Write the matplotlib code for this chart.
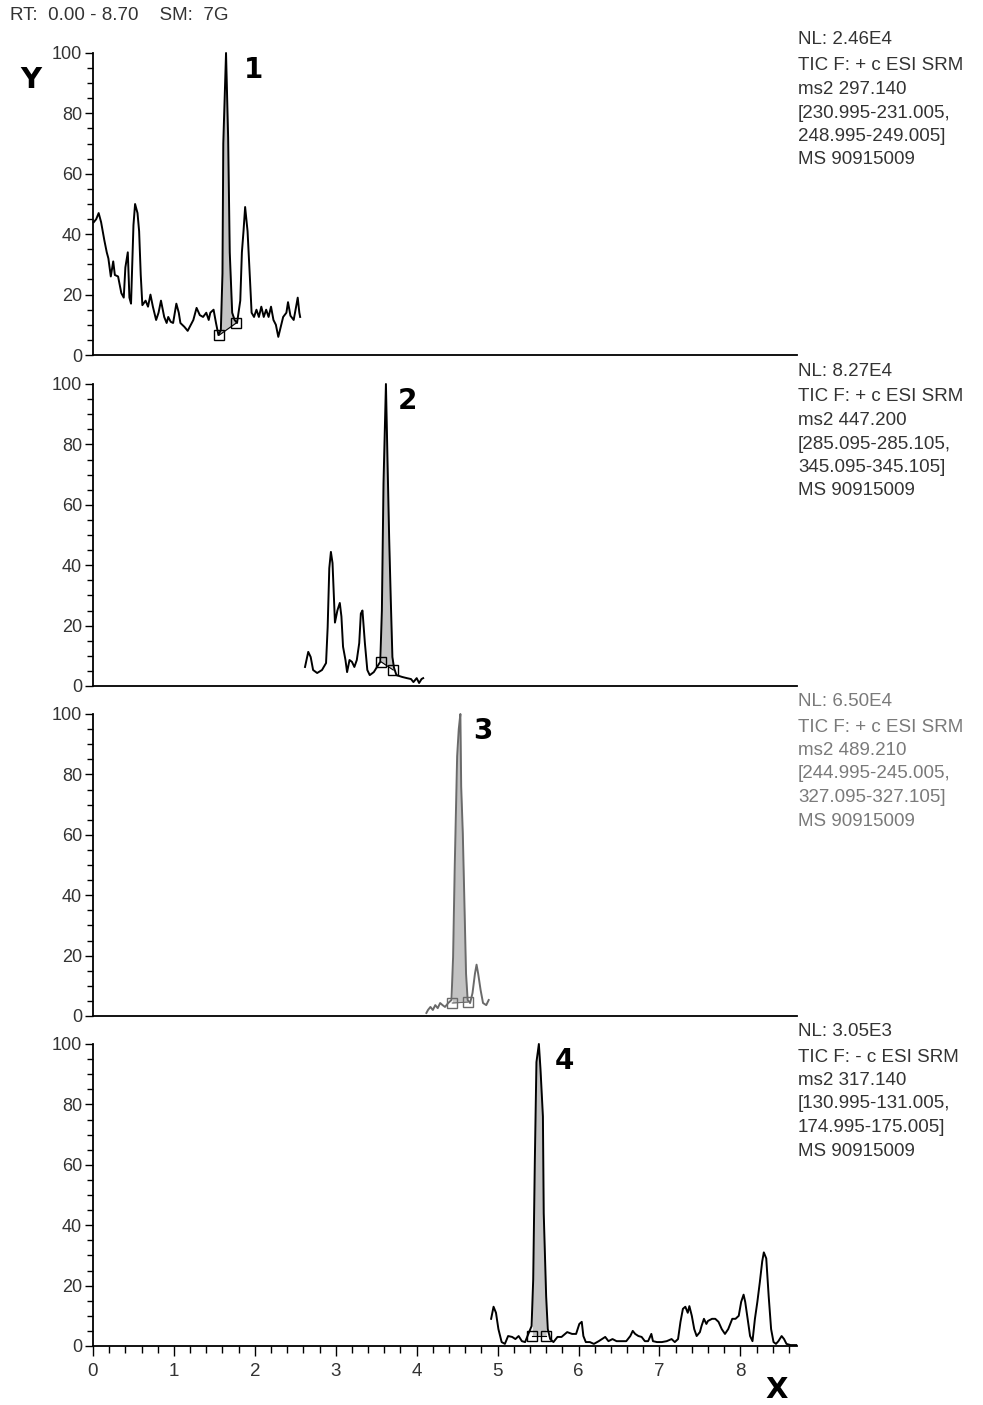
import numpy as np
import matplotlib
matplotlib.use("Agg")
import matplotlib.pyplot as plt
from matplotlib.ticker import MultipleLocator

# ---- trace 1 (RT min, relative abundance %)
t1 = [0.01, 0.04, 0.07, 0.10, 0.14, 0.17, 0.19, 0.22, 0.25, 0.27, 0.31, 0.35, 0.38, 0.40,
      0.43, 0.45, 0.47, 0.50, 0.52, 0.55, 0.57, 0.59, 0.61, 0.65, 0.68, 0.71, 0.74, 0.78,
      0.81, 0.84, 0.88, 0.91, 0.93, 0.96, 0.99, 1.03, 1.06, 1.08, 1.13, 1.17, 1.24, 1.28,
      1.32, 1.36, 1.40, 1.43, 1.45, 1.49, 1.52, 1.55, 1.58, 1.60, 1.61, 1.644, 1.67, 1.69,
      1.72, 1.75, 1.78, 1.82, 1.84, 1.86, 1.88, 1.91, 1.94, 1.96, 1.99, 2.02, 2.05, 2.08,
      2.11, 2.14, 2.17, 2.20, 2.23, 2.26, 2.29, 2.32, 2.35, 2.39, 2.41, 2.44, 2.48, 2.51,
      2.53, 2.55, 2.56]
y1 = [44, 45, 47, 44, 38, 34, 32, 26, 31, 26.5, 26, 20.5, 19, 29,
      34, 19, 17, 43, 50, 47, 41, 26.5, 16.5, 18, 16, 20, 16, 11.6,
      14, 18, 12.6, 10.6, 12.6, 11, 10.6, 17, 14, 10.6, 9.3, 8, 11.6, 15.6,
      13.2, 12.6, 14, 11.6, 14, 15, 10.6, 6.6, 8.3, 27, 70, 100, 72, 34,
      14, 11.6, 10.6, 18, 34, 41, 49, 41, 25, 14, 12.6, 15, 12.6, 16,
      12.6, 15, 12.6, 16, 11.6, 10, 6, 9.3, 12.6, 14, 17.5, 13, 11.6, 16,
      19, 14, 12.6]
box1 = [(1.56, 6.6), (1.77, 10.6)]

# ---- trace 2
t2 = [2.62, 2.66, 2.69, 2.72, 2.77, 2.83, 2.88, 2.90, 2.92, 2.94, 2.96, 2.99, 3.02, 3.05,
      3.07, 3.09, 3.12, 3.14, 3.17, 3.20, 3.23, 3.26, 3.29, 3.31, 3.33, 3.36, 3.39, 3.42,
      3.47, 3.51, 3.55, 3.57, 3.59, 3.62, 3.64, 3.66, 3.68, 3.70, 3.72, 3.75, 3.82, 3.88,
      3.93, 3.96, 4.00, 4.03, 4.06, 4.08]
y2 = [6.3, 11.3, 9.6, 5.3, 4.3, 5.3, 7.6, 19.5, 39, 44.4, 40.7, 21, 25, 27.5,
      23, 13, 8.6, 4.6, 8.6, 8, 6.3, 8.6, 14.2, 24, 25, 14.2, 5.3, 3.6,
      4.6, 6.3, 8, 25, 67, 100, 74, 49, 28.5, 9.6, 6, 3.6, 3, 2.6,
      2.3, 1.3, 2.6, 1, 2.3, 2.6]
box2 = [(3.56, 8), (3.71, 5.3)]

# ---- trace 3
t3 = [4.12, 4.14, 4.17, 4.20, 4.23, 4.26, 4.29, 4.32, 4.35, 4.39, 4.43, 4.45, 4.47, 4.50,
      4.52, 4.54, 4.55, 4.57, 4.59, 4.61, 4.63, 4.66, 4.69, 4.72, 4.74, 4.76, 4.79, 4.82,
      4.86, 4.89]
y3 = [1, 2, 3, 2, 3.6, 2.6, 4.3, 3.6, 3, 4.3, 5.3, 19.5, 49, 86,
      95, 100, 76, 60.5, 37.4, 14, 5.3, 4.3, 7.6, 14, 17, 14, 8.6, 4.3,
      3.6, 5.3]
box3 = [(4.44, 4.3), (4.63, 4.6)]

# ---- trace 4
t4 = [4.92, 4.95, 4.98, 5.01, 5.05, 5.09, 5.13, 5.18, 5.22, 5.26, 5.30, 5.34, 5.38, 5.42,
      5.44, 5.46, 5.48, 5.51, 5.53, 5.56, 5.57, 5.60, 5.62, 5.65, 5.69, 5.74, 5.79, 5.86,
      5.92, 5.97, 6.01, 6.04, 6.06, 6.09, 6.14, 6.19, 6.25, 6.29, 6.33, 6.37, 6.42, 6.47,
      6.55, 6.59, 6.64, 6.67, 6.70, 6.74, 6.78, 6.82, 6.86, 6.90, 6.92, 6.97, 7.03, 7.09,
      7.15, 7.19, 7.23, 7.26, 7.29, 7.32, 7.35, 7.37, 7.40, 7.43, 7.46, 7.50, 7.52, 7.55,
      7.58, 7.60, 7.65, 7.69, 7.73, 7.77, 7.81, 7.85, 7.90, 7.94, 7.98, 8.01, 8.04, 8.06,
      8.09, 8.12, 8.15, 8.18, 8.21, 8.24, 8.27, 8.29, 8.32, 8.35, 8.38, 8.41, 8.44, 8.47,
      8.51, 8.54, 8.57, 8.62, 8.69]
y4 = [9, 13, 11, 5.6, 1.3, 0.7, 3.3, 3, 2.3, 3.3, 1.6, 1.3, 4, 6.6,
      22, 61, 94, 100, 91.7, 76, 44, 16.5, 5.6, 2.3, 1.3, 3, 3, 4.6,
      4, 4, 7.3, 8, 3.3, 1.3, 1.3, 0.7, 1.6, 2.3, 3, 1.6, 2.3, 1.6,
      1.6, 1.6, 3.3, 5, 4, 3.3, 3, 1.6, 1.6, 4, 1.6, 1.3, 1.3, 1.6,
      2.3, 1.3, 2.3, 8, 12.3, 13, 11, 13.2, 10, 5.6, 3.3, 4.6, 6.6, 9,
      7.3, 8.3, 9, 9, 8, 5.6, 4, 5.6, 9, 9, 10, 14.6, 17, 14.6,
      9, 3.3, 1.6, 9, 14.6, 21, 28, 31, 29, 16.5, 5.6, 1.3, 0.7, 1.6,
      3.3, 2.3, 0.7, 0.3, 0.3]
box4 = [(5.43, 3.3), (5.60, 3.3)]

info1 = ["NL: 2.46E4", "TIC F: + c ESI SRM", "ms2 297.140",
         "[230.995-231.005,", "248.995-249.005]", "MS 90915009"]
info2 = ["NL: 8.27E4", "TIC F: + c ESI SRM", "ms2 447.200",
         "[285.095-285.105,", "345.095-345.105]", "MS 90915009"]
info3 = ["NL: 6.50E4", "TIC F: + c ESI SRM", "ms2 489.210",
         "[244.995-245.005,", "327.095-327.105]", "MS 90915009"]
info4 = ["NL: 3.05E3", "TIC F: - c ESI SRM", "ms2 317.140",
         "[130.995-131.005,", "174.995-175.005]", "MS 90915009"]

peak_num = ["1", "2", "3", "4"]
peak_num_x = [1.98, 3.88, 4.82, 5.83]

W, H = 983, 1405
fig = plt.figure(figsize=(W / 100, H / 100), dpi=100)
tickfont = ['Liberation Sans Narrow', 'Liberation Sans', 'DejaVu Sans']
txtfont = ['Liberation Sans', 'DejaVu Sans']

tops = [53, 384, 714, 1044]
traces = [(t1, y1, box1, info1), (t2, y2, box2, info2),
          (t3, y3, box3, info3), (t4, y4, box4, info4)]

for k, (t, y, box, info) in enumerate(traces):
    top = tops[k]
    ax = fig.add_axes([93 / W, 1 - (top + 302) / H, 704 / W, 302 / H])
    t = np.array(t)
    y = np.array(y)
    col = '#6a6a6a' if k == 2 else 'black'
    tcol = '#7a7a7a' if k == 2 else '#333333'

    # shaded peak area between trace and baseline through the two boxes
    (xa, ya), (xb, yb) = box
    xs = np.concatenate([[xa], t[(t > xa) & (t < xb)], [xb]])
    ys = np.interp(xs, t, y)
    base = np.interp(xs, [xa, xb], [ya, yb])
    ax.fill_between(xs, base, ys, color='#c3c3c3', lw=0)
    ax.plot([xa, xb], [ya, yb], color=col, lw=0.8)

    ax.plot(t, y, color=col, lw=1.4, clip_on=False)
    ax.plot([xa, xb], [ya, yb], ls='none', marker='s', ms=6.5, mfc='none',
            mec=col, mew=1.0, clip_on=False)

    ax.set_xlim(0, 8.7)
    ax.set_ylim(0, 100)
    for s in ['top', 'right']:
        ax.spines[s].set_visible(False)
    ax.spines['left'].set_linewidth(1.3)
    ax.spines['bottom'].set_linewidth(1.3)
    ax.yaxis.set_major_locator(MultipleLocator(20))
    ax.yaxis.set_minor_locator(MultipleLocator(5))
    ax.tick_params(axis='y', which='major', length=6, width=1, pad=2,
                   labelsize=13, labelcolor='#333333')
    ax.tick_params(axis='y', which='minor', length=4, width=1)
    for lab in ax.get_yticklabels():
        lab.set_family(tickfont)

    if k == 3:
        ax.xaxis.set_major_locator(MultipleLocator(1))
        ax.xaxis.set_minor_locator(MultipleLocator(0.2))
        ax.tick_params(axis='x', which='major', length=7, width=1, pad=5,
                       labelsize=13.5, labelcolor='#333333')
        ax.tick_params(axis='x', which='minor', length=5, width=1)
        for lab in ax.get_xticklabels():
            lab.set_family(tickfont)
    else:
        ax.set_xticks([])

    ax.text(peak_num_x[k], 94.5, peak_num[k], fontsize=20, fontweight='bold',
            family='DejaVu Sans', ha='center', va='center')

    # info block on the right
    fig.text(798 / W, 1 - (top - 13) / H, info[0], fontsize=13.5, color=tcol,
             family=txtfont, va='center', ha='left')
    for j, line in enumerate(info[1:]):
        fig.text(798 / W, 1 - (top + 13 + j * 23.5) / H, line, fontsize=13.5,
                 color=tcol, family=txtfont, va='center', ha='left')

fig.text(10 / W, 1 - 16 / H, "RT:  0.00 - 8.70    SM:  7G", fontsize=13.5,
         color='#333333', family=txtfont, va='center', ha='left')
fig.text(31 / W, 1 - 80 / H, "Y", fontsize=21, fontweight='bold',
         family='DejaVu Sans', ha='center', va='center')
fig.text(777 / W, 1 - 1390 / H, "X", fontsize=21, fontweight='bold',
         family='DejaVu Sans', ha='center', va='center')

fig.savefig("out.png", dpi=100, facecolor='white')
